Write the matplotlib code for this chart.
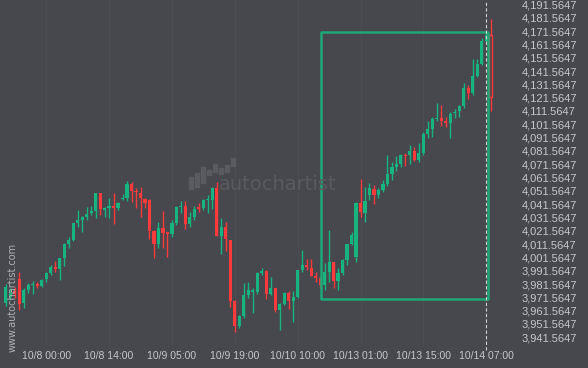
import matplotlib
matplotlib.use("Agg")
import matplotlib.pyplot as plt
from matplotlib.patches import Rectangle

# hourly candles, 10/7 late evening .. 10/14 08:00
opens = [3967.2, 3971.8, 3976.3, 3985.3, 3967.0, 3977.0, 3980.8, 3981.3, 3980.3, 3985.3,
         3989.6, 3994.6, 3992.8, 4001.3, 4011.4, 4014.6, 4027.6, 4029.6, 4031.8, 4035.1,
         4036.6, 4049.7, 4037.1, 4038.6, 4040.1, 4038.6, 4045.4, 4046.4, 4056.7, 4051.6,
         4049.7, 4045.4, 4044.6, 4021.6, 4011.6, 4023.8, 4020.4, 4019.1, 4027.4, 4039.2,
         4040.1, 4026.6, 4032.1, 4039.2, 4038.4, 4044.6, 4044.6, 4053.9, 4017.6, 4024.6,
         4014.6, 3969.0, 3950.2, 3957.5, 3973.3, 3975.8, 3975.8, 3990.0, 3991.5, 3973.8,
         3978.3, 3962.0, 3966.3, 3974.6, 3969.0, 3971.6, 3992.1, 3995.8, 3993.3, 3987.8,
         3986.3, 3980.8, 3990.4, 3997.9, 3984.0, 3989.6, 3999.6, 4011.4, 4002.1, 4042.6,
         4035.1, 4048.4, 4052.9, 4048.6, 4052.2, 4056.5, 4064.2, 4069.2, 4071.7, 4078.7,
         4078.3, 4081.2, 4074.7, 4080.2, 4094.3, 4098.0, 4105.5, 4106.5, 4104.0, 4102.7,
         4109.8, 4111.5, 4115.3, 4128.6, 4125.3, 4137.8, 4146.8, 4163.9, 4168.9]
highs = [3981.5, 3978.5, 3979.3, 3990.6, 3978.5, 3982.3, 3983.8, 3983.0, 3985.3, 3990.8,
         3995.8, 3998.8, 4001.3, 4012.4, 4016.9, 4027.6, 4036.9, 4032.9, 4039.2, 4040.4,
         4050.0, 4050.0, 4039.6, 4046.4, 4049.7, 4043.4, 4048.9, 4059.2, 4058.4, 4053.4,
         4054.6, 4046.4, 4045.4, 4022.0, 4027.9, 4036.4, 4020.8, 4029.6, 4039.9, 4043.9,
         4043.9, 4035.9, 4040.1, 4042.2, 4045.4, 4048.4, 4054.6, 4058.4, 4030.9, 4028.4,
         4014.9, 3969.3, 3958.3, 3982.1, 3983.3, 3978.3, 3990.8, 3993.8, 3992.1, 3987.0,
         3978.6, 3967.0, 3975.8, 3976.3, 3976.3, 3992.4, 4006.9, 4000.3, 4000.1, 3990.8,
         3986.6, 3997.1, 4022.1, 3998.3, 3993.3, 4000.1, 4011.7, 4020.8, 4043.4, 4060.2,
         4054.6, 4057.2, 4055.9, 4053.4, 4059.7, 4078.5, 4073.4, 4077.7, 4079.0, 4080.2,
         4086.0, 4084.7, 4087.3, 4095.8, 4104.0, 4107.3, 4117.3, 4116.0, 4107.3, 4111.0,
         4112.8, 4116.0, 4132.3, 4131.1, 4150.4, 4150.4, 4166.2, 4171.1, 4180.4]
lows = [3965.0, 3969.5, 3971.0, 3962.0, 3963.5, 3974.8, 3974.0, 3978.5, 3979.5, 3982.8,
        3988.3, 3990.8, 3984.5, 3995.3, 4008.8, 4014.1, 4024.6, 4020.8, 4029.6, 4033.4,
        4030.9, 4033.4, 4032.1, 4030.9, 4026.4, 4037.1, 4044.6, 4044.1, 4043.4, 4038.4,
        4032.1, 4038.4, 4015.3, 4001.3, 4008.4, 4008.4, 4002.1, 4017.1, 4025.9, 4035.1,
        4022.6, 4024.6, 4029.6, 4035.4, 4037.1, 4034.7, 4037.7, 4017.3, 4003.9, 4006.4,
        3964.5, 3945.7, 3948.3, 3955.8, 3970.8, 3959.5, 3973.8, 3988.3, 3970.3, 3973.3,
        3960.3, 3947.0, 3965.8, 3962.8, 3952.8, 3971.3, 3990.8, 3992.1, 3987.5, 3983.3,
        3978.3, 3977.0, 3983.3, 3978.3, 3977.0, 3988.3, 3995.8, 4010.8, 3998.3, 4032.1,
        4028.4, 4044.6, 4041.4, 4045.9, 4050.9, 4055.2, 4059.7, 4066.4, 4069.2, 4070.2,
        4071.7, 4073.9, 4073.4, 4078.3, 4091.0, 4092.2, 4104.0, 4100.3, 4099.3, 4091.0,
        4106.0, 4106.8, 4113.6, 4120.3, 4123.3, 4137.3, 4146.1, 4163.6, 4111.5]
closes = [3979.2, 3974.8, 3974.0, 3966.5, 3977.0, 3980.8, 3981.8, 3980.3, 3984.5, 3990.0,
          3994.3, 3992.8, 4000.8, 4011.4, 4014.6, 4027.1, 4029.6, 4032.1, 4034.1, 4036.6,
          4049.7, 4037.7, 4038.6, 4040.1, 4038.9, 4042.4, 4046.1, 4056.7, 4051.6, 4050.4,
          4045.9, 4042.2, 4021.6, 4011.6, 4023.8, 4020.1, 4019.1, 4027.4, 4039.6, 4040.1,
          4026.6, 4032.1, 4038.1, 4037.9, 4044.6, 4045.4, 4053.9, 4017.6, 4024.6, 4015.1,
          3969.0, 3950.2, 3957.5, 3973.3, 3977.0, 3976.5, 3990.0, 3991.5, 3973.8, 3978.3,
          3962.0, 3966.3, 3974.6, 3969.0, 3971.6, 3992.1, 3995.8, 3994.6, 3987.8, 3986.3,
          3980.8, 3990.4, 3997.9, 3984.0, 3989.6, 3999.6, 4011.4, 4018.4, 4042.6, 4035.9,
          4043.9, 4053.9, 4048.6, 4052.2, 4056.5, 4064.2, 4069.2, 4071.7, 4078.3, 4077.7,
          4081.2, 4074.7, 4080.2, 4094.3, 4098.0, 4105.5, 4106.5, 4104.0, 4102.7, 4109.1,
          4111.0, 4115.3, 4128.6, 4125.3, 4137.8, 4146.8, 4164.1, 4168.9, 4122.3]

tick_idx = [9, 23, 37, 51, 65, 79, 93, 107]
tick_labels = ["10/8 00:00", "10/8 14:00", "10/9 05:00", "10/9 19:00",
               "10/10 10:00", "10/13 01:00", "10/13 15:00", "10/14 07:00"]
price_ticks = [3941.5647 + 10 * k for k in range(26)]

# detected pattern box
box_start, box_end = 70.2, 107.5
box_top, box_bottom = 4170.7, 3970.3
now_idx = 107

BG = "#46484d"
UP = "#17b47f"
DOWN = "#fb3a3c"
BOX = "#1fa777"
TXT = "#c6c7c9"

W, H = 588, 368
fig = plt.figure(figsize=(W / 100, H / 100), dpi=100, facecolor=BG)
ax = fig.add_axes([0, 23 / H, 510 / W, 345 / H], facecolor=BG)

n = len(opens)
for i in range(n):
    o, h, l, c = opens[i], highs[i], lows[i], closes[i]
    col = UP if c >= o else DOWN
    last = i == n - 1
    ax.vlines(i, l, h, color=col, lw=1, zorder=2)
    bot = min(o, c)
    hgt = max(abs(c - o), 0.9)
    if last:
        ax.bar(i, hgt, bottom=bot, width=0.7, color=BG, edgecolor=col, lw=1, zorder=3)
    else:
        ax.bar(i, hgt, bottom=bot, width=0.7, color=col, lw=0, zorder=3)

ax.add_patch(Rectangle((box_start, box_bottom), box_end - box_start, box_top - box_bottom,
                       fill=False, edgecolor=BOX, lw=1.8, joinstyle="round", zorder=4))
ax.axvline(now_idx, ymin=-0.015, ymax=1, color="#d0d0d0", lw=0.8, ls=(0, (3, 2)),
           clip_on=False, zorder=5)

ax.set_xlim(-5.8 / 4.49, (510 - 5.8) / 4.49)
ax.set_ylim(3935.74, 4194.94)
ax.set_xticks(tick_idx)
ax.set_xticklabels(tick_labels)
ax.set_yticks(price_ticks)
ax.set_yticklabels(["{:,.4f}".format(v) for v in price_ticks])
ax.yaxis.tick_right()
ax.tick_params(axis="x", length=0, pad=4.5, labelsize=7.5, colors=TXT)
ax.tick_params(axis="y", length=0, pad=8.6, labelsize=8, colors=TXT)
for lab in ax.get_xticklabels() + ax.get_yticklabels():
    lab.set_fontfamily("Liberation Sans")
ax.grid(axis="x", color="#4b4d52", lw=0.8, zorder=0)
for s in ax.spines.values():
    s.set_visible(False)

# watermark
def fx(px):
    return px / W

def fy(py):
    return 1 - py / H

logo = [(191, 177, 189), (197, 173, 187), (203, 167, 183), (209, 170, 175),
        (215, 164, 172), (221, 168, 174), (227, 165, 172), (233, 158, 166)]
for x, t, b in logo:
    fig.patches.append(Rectangle((fx(x - 1.7), fy(b)), 3.4 / W, (b - t) / H,
                                 transform=fig.transFigure, color="#595b60", zorder=1))
fig.text(fx(219), fy(190), "autochartist", fontsize=14, color="#585a5f",
         va="baseline", ha="left", zorder=1)
fig.text(fx(13), fy(297), "www.autochartist.com", fontsize=7, color="#aeb0b3",
         rotation=90, ha="center", va="center", zorder=6)

fig.savefig("out.png", dpi=100, facecolor=BG)
